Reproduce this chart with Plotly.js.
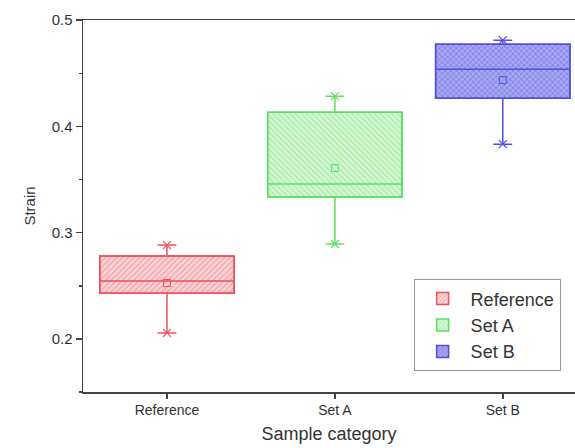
<!DOCTYPE html>
<html>
<head>
<meta charset="utf-8">
<script src="https://cdn.plot.ly/plotly-3.0.1.min.js"></script>
<style>html,body{margin:0;padding:0;background:#fff;}#chart{width:575px;height:448px;}</style>
</head>
<body>
<div id="chart"></div>
<script>
const categories = ['Reference', 'Set A', 'Set B'];
const q1Values = [0.243, 0.3335, 0.4266];
const medianValues = [0.2545, 0.3457, 0.4539];
const q3Values = [0.278, 0.4134, 0.4774];
const lowerValues = [0.2056, 0.2893, 0.3833];
const upperValues = [0.2883, 0.4285, 0.4812];
const meanValues = [0.2526, 0.3608, 0.4436];
const yTickValues = [0.2, 0.3, 0.4, 0.5];
const yTickLabels = ['0.2', '0.3', '0.4', '0.5'];

const lineColors = ['#f0505a', '#5ee05e', '#5050e0'];
const bgColors = ['#f8d4d6', '#d4f6d4', '#a8a8f0'];
const fgColors = ['#f3959a', '#9aea9a', '#6464e6'];
const patterns = ['/', '\\', 'x'];

const traces = [];
categories.forEach((c, i) => {
  traces.push({
    type: 'bar', name: c, x: [c], y: [q3Values[i] - q1Values[i]], base: [q1Values[i]],
    width: 0.8,
    marker: {
      color: bgColors[i],
      line: {color: lineColors[i], width: 1.5},
      pattern: {shape: patterns[i], fgcolor: fgColors[i], bgcolor: bgColors[i], size: 4, solidity: 0.25}
    },
    hoverinfo: 'skip', showlegend: true
  });
});
categories.forEach((c, i) => {
  traces.push({
    type: 'box', name: c, x: [c],
    q1: [q1Values[i]], median: [medianValues[i]], q3: [q3Values[i]],
    lowerfence: [lowerValues[i]], upperfence: [upperValues[i]],
    width: 0.8, whiskerwidth: 0.14, fillcolor: 'rgba(0,0,0,0)',
    line: {color: lineColors[i], width: 1.5},
    showlegend: false, hoverinfo: 'skip'
  });
  traces.push({
    type: 'scatter', mode: 'markers', x: [c, c], y: [lowerValues[i], upperValues[i]],
    marker: {symbol: 'x-thin-open', size: 8, color: lineColors[i], line: {color: lineColors[i], width: 1.2}},
    showlegend: false, hoverinfo: 'skip'
  });
  traces.push({
    type: 'scatter', mode: 'markers', x: [c], y: [meanValues[i]],
    marker: {symbol: 'square-open', size: 7, color: lineColors[i], line: {color: lineColors[i], width: 1}},
    showlegend: false, hoverinfo: 'skip'
  });
});

const layout = {
  width: 575, height: 448,
  margin: {l: 83, r: 0, t: 20, b: 56},
  paper_bgcolor: '#fff', plot_bgcolor: '#fff',
  font: {family: 'Liberation Sans, Arial, sans-serif', color: '#333', size: 14},
  barmode: 'overlay', boxmode: 'overlay',
  showlegend: true,
  legend: {
    x: 0.672, y: 0.179, xanchor: 'left', yanchor: 'middle',
    bordercolor: '#999', borderwidth: 1, bgcolor: '#fff',
    font: {size: 18, color: '#333'}, tracegroupgap: 0, itemwidth: 46
  },
  xaxis: {
    type: 'category', categoryorder: 'array', categoryarray: categories,
    range: [-0.5, 2.43],
    showline: true, linecolor: '#444', linewidth: 1.5, mirror: true,
    ticks: 'outside', ticklen: 5, tickwidth: 1.5, tickcolor: '#444',
    showgrid: false, zeroline: false,
    tickfont: {size: 14},
    title: {text: 'Sample category', font: {size: 18}, standoff: 10}
  },
  yaxis: {
    range: [0.15, 0.5002],
    tickmode: 'array', tickvals: yTickValues, ticktext: yTickLabels,
    showline: true, linecolor: '#444', linewidth: 1.5, mirror: false,
    ticks: 'outside', ticklen: 6, tickwidth: 1.5, tickcolor: '#444',
    minor: {dtick: 0.05, tick0: 0.15, ticks: 'outside', ticklen: 3, tickwidth: 1.5, tickcolor: '#444', showgrid: false},
    showgrid: false, zeroline: false,
    tickfont: {size: 15},
    title: {text: 'Strain', font: {size: 15}, standoff: 12}
  }
};

Plotly.newPlot('chart', traces, layout, {displayModeBar: false, staticPlot: true});
</script>
</body>
</html>
